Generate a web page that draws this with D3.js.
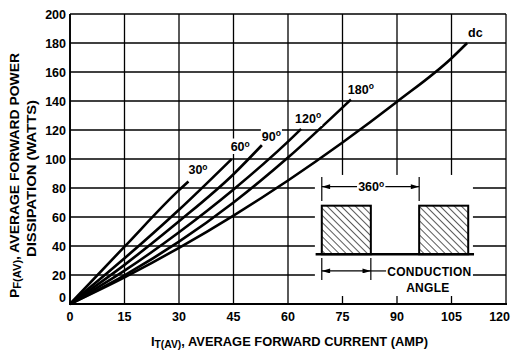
<!DOCTYPE html>
<html lang="en">
<head>
<meta charset="UTF-8">
<title>Average forward power dissipation</title>
<style>
  body { margin: 0; background: #fff; }
  svg { display: block; font-family: "Liberation Sans", Arial, sans-serif; font-weight: bold; }
</style>
</head>
<body>
<div id="chart"></div>
<script src="https://cdn.jsdelivr.net/npm/d3@7/dist/d3.min.js"></script>
<script>
var xTicks = [0, 15, 30, 45, 60, 75, 90, 105, 120];
var yTicks = [0, 20, 40, 60, 80, 100, 120, 140, 160, 180, 200];

// conduction angle curves, [I_T(AV) amps, P_F(AV) watts]
var names = ['30', '60', '90', '120', '180', 'dc'];
var curve30 = [[0, 0], [15, 39.5], [30, 78.5], [32.6, 84.5]];
var curve60 = [[0, 0], [15, 31.5], [30, 65], [44.5, 100]];
var curve90 = [[0, 0], [15, 27], [30, 57], [45, 89.5], [52.8, 109.5]];
var curve120 = [[0, 0], [15, 23], [30, 49.5], [45, 79], [60, 112], [63.6, 120.7]];
var curve180 = [[0, 0], [15, 19.8], [30, 43], [45, 70], [60, 101], [77.3, 141]];
var curveDc = [[0, 0], [15, 18.4], [30, 38.7], [45, 61], [60, 85.2], [75, 111.4], [90, 139.5], [105, 169.5], [109.3, 180]];
var curves = [curve30, curve60, curve90, curve120, curve180, curveDc];

var width = 511, height = 354;
var x = d3.scaleLinear().domain([0, 120]).range([70, 506]);
var y = d3.scaleLinear().domain([0, 200]).range([304, 14]);

var svg = d3.select('#chart').append('svg')
  .attr('width', width)
  .attr('height', height);

svg.append('rect').attr('width', width).attr('height', height).attr('fill', '#fff');

// grid
var grid = svg.append('g').attr('stroke', '#000').attr('stroke-width', 1.3);
grid.selectAll('.vx').data(xTicks).enter().append('line')
  .attr('x1', function(d) { return x(d); }).attr('x2', function(d) { return x(d); })
  .attr('y1', y(0)).attr('y2', y(200));
grid.selectAll('.hy').data(yTicks).enter().append('line')
  .attr('x1', x(0)).attr('x2', x(120))
  .attr('y1', function(d) { return y(d); }).attr('y2', function(d) { return y(d); });
grid.append('line').attr('x1', x(0) - 1).attr('x2', x(120) + 1).attr('y1', y(0)).attr('y2', y(0)).attr('stroke-width', 2);
grid.append('line').attr('x1', x(0)).attr('x2', x(0)).attr('y1', y(0)).attr('y2', y(200)).attr('stroke-width', 1.8);

// tick labels
svg.append('g').attr('font-size', 12.5).attr('text-anchor', 'middle')
  .selectAll('text').data(xTicks).enter().append('text')
  .attr('x', function(d) { return d === 120 ? 510 : x(d); })
  .attr('text-anchor', function(d) { return d === 120 ? 'end' : null; })
  .attr('y', 321)
  .text(function(d) { return d; });
svg.append('g').attr('font-size', 12.5).attr('text-anchor', 'end')
  .selectAll('text').data(yTicks).enter().append('text')
  .attr('x', 66)
  .attr('y', function(d) { return d === 0 ? y(d) - 2 : y(d) + 4.5; })
  .text(function(d) { return d; });

// inset with white backing, drawn over the grid
var inset = svg.append('g');
inset.append('rect')
  .attr('x', x(67.4)).attr('y', y(89))
  .attr('width', x(110.9) - x(67.4)).attr('height', y(5.5) - y(89))
  .attr('fill', '#fff');

var defs = svg.append('defs');
defs.append('pattern')
  .attr('id', 'hatch').attr('patternUnits', 'userSpaceOnUse')
  .attr('width', 5).attr('height', 5)
  .attr('patternTransform', 'rotate(-45)')
  .append('line')
  .attr('x1', 0).attr('y1', 0).attr('x2', 0).attr('y2', 5)
  .attr('stroke', '#000').attr('stroke-width', 1.3);
defs.append('marker')
  .attr('id', 'arrow').attr('markerUnits', 'userSpaceOnUse')
  .attr('viewBox', '0 0 10 6').attr('refX', 10).attr('refY', 3)
  .attr('markerWidth', 10).attr('markerHeight', 5)
  .attr('orient', 'auto-start-reverse')
  .append('path').attr('d', 'M0,0L10,3L0,6Z').attr('fill', '#000');

var pulses = [[69.3, 82.8], [96.1, 109.6]];
inset.selectAll('.pulse').data(pulses).enter().append('rect')
  .attr('x', function(d) { return x(d[0]); })
  .attr('y', y(67.8))
  .attr('width', function(d) { return x(d[1]) - x(d[0]); })
  .attr('height', y(34.3) - y(67.8))
  .attr('fill', 'url(#hatch)')
  .attr('stroke', '#000').attr('stroke-width', 2);
inset.append('line')
  .attr('x1', x(67.6)).attr('x2', x(111.2)).attr('y1', y(34.3)).attr('y2', y(34.3))
  .attr('stroke', '#000').attr('stroke-width', 2.6);

// 360 degree dimension
inset.selectAll('.dim').data([69.3, 96.1]).enter().append('line')
  .attr('x1', function(d) { return x(d); }).attr('x2', function(d) { return x(d); })
  .attr('y1', y(87.6)).attr('y2', y(71))
  .attr('stroke', '#000').attr('stroke-width', 1.2);
inset.append('line')
  .attr('x1', x(79)).attr('x2', x(69.3)).attr('y1', y(80.9)).attr('y2', y(80.9))
  .attr('stroke', '#000').attr('stroke-width', 1.2).attr('marker-end', 'url(#arrow)');
inset.append('line')
  .attr('x1', x(86.8)).attr('x2', x(96.1)).attr('y1', y(80.9)).attr('y2', y(80.9))
  .attr('stroke', '#000').attr('stroke-width', 1.2).attr('marker-end', 'url(#arrow)');
var t360 = inset.append('text')
  .attr('x', (x(79) + x(86.8)) / 2).attr('y', y(80.9) + 4.6)
  .attr('text-anchor', 'middle').attr('font-size', 12.5);
t360.append('tspan').text('360');
t360.append('tspan').attr('font-size', 8.5).attr('dy', -4.5).text('o');

// conduction angle dimension
inset.selectAll('.dim2').data([69.3, 82.8]).enter().append('line')
  .attr('x1', function(d) { return x(d); }).attr('x2', function(d) { return x(d); })
  .attr('y1', y(31.7)).attr('y2', y(16.6))
  .attr('stroke', '#000').attr('stroke-width', 1.2);
inset.append('line')
  .attr('x1', x(69.3)).attr('x2', x(82.8)).attr('y1', y(22.8)).attr('y2', y(22.8))
  .attr('stroke', '#000').attr('stroke-width', 1.2)
  .attr('marker-start', 'url(#arrow)').attr('marker-end', 'url(#arrow)');
inset.append('line')
  .attr('x1', x(82.8)).attr('x2', x(87)).attr('y1', y(22.8)).attr('y2', y(22.8))
  .attr('stroke', '#000').attr('stroke-width', 1.2);
inset.append('text')
  .attr('x', x(87.3)).attr('y', y(22.8) + 5.5).attr('font-size', 12)
  .attr('letter-spacing', 0.3)
  .text('CONDUCTION');
inset.append('text')
  .attr('x', x(98.5)).attr('y', y(8.3)).attr('font-size', 12)
  .attr('text-anchor', 'middle').attr('letter-spacing', 0.3)
  .text('ANGLE');

// curves
var line = d3.line()
  .x(function(d) { return x(d[0]); })
  .y(function(d) { return y(d[1]); })
  .curve(d3.curveMonotoneX);
svg.append('g').selectAll('path').data(curves).enter().append('path')
  .attr('d', line)
  .attr('fill', 'none')
  .attr('stroke', '#000')
  .attr('stroke-width', 2.6);

// curve labels at the curve ends, masked white behind
var labelOffsets = [[0, -7], [-1, -8], [0, -4.5], [-6, -6], [-3, -6], [1, -6]];
curves.forEach(function(c, i) {
  var end = c[c.length - 1];
  var g = svg.append('g');
  var t = g.append('text')
    .attr('x', x(end[0]) + labelOffsets[i][0])
    .attr('y', y(end[1]) + labelOffsets[i][1])
    .attr('font-size', 12.5);
  t.append('tspan').text(names[i]);
  if (names[i] !== 'dc') {
    t.append('tspan').attr('font-size', 8.5).attr('dy', -4.5).text('o');
  }
  var bb = t.node().getBBox();
  g.insert('rect', 'text')
    .attr('x', bb.x - 1).attr('y', bb.y)
    .attr('width', bb.width + 2).attr('height', bb.height)
    .attr('fill', '#fff');
});

// axis titles
var xt = svg.append('text')
  .attr('x', 151).attr('y', 346)
  .attr('font-size', 12.5)
  .attr('textLength', 277).attr('lengthAdjust', 'spacingAndGlyphs');
xt.append('tspan').text('I');
xt.append('tspan').attr('font-size', 10).attr('dy', 1.5).text('T(AV)');
xt.append('tspan').attr('dy', -1.5).text(', AVERAGE FORWARD CURRENT (AMP)');

var yt = svg.append('text')
  .attr('transform', 'translate(19,298) rotate(-90)')
  .attr('font-size', 12.5)
  .attr('textLength', 245).attr('lengthAdjust', 'spacingAndGlyphs');
yt.append('tspan').text('P');
yt.append('tspan').attr('font-size', 10).attr('dy', 1.5).text('F(AV)');
yt.append('tspan').attr('dy', -1.5).text(', AVERAGE FORWARD POWER');
svg.append('text')
  .attr('transform', 'translate(36,257) rotate(-90)')
  .attr('font-size', 12.5)
  .attr('textLength', 157).attr('lengthAdjust', 'spacingAndGlyphs')
  .text('DISSIPATION (WATTS)');
</script>
</body>
</html>
